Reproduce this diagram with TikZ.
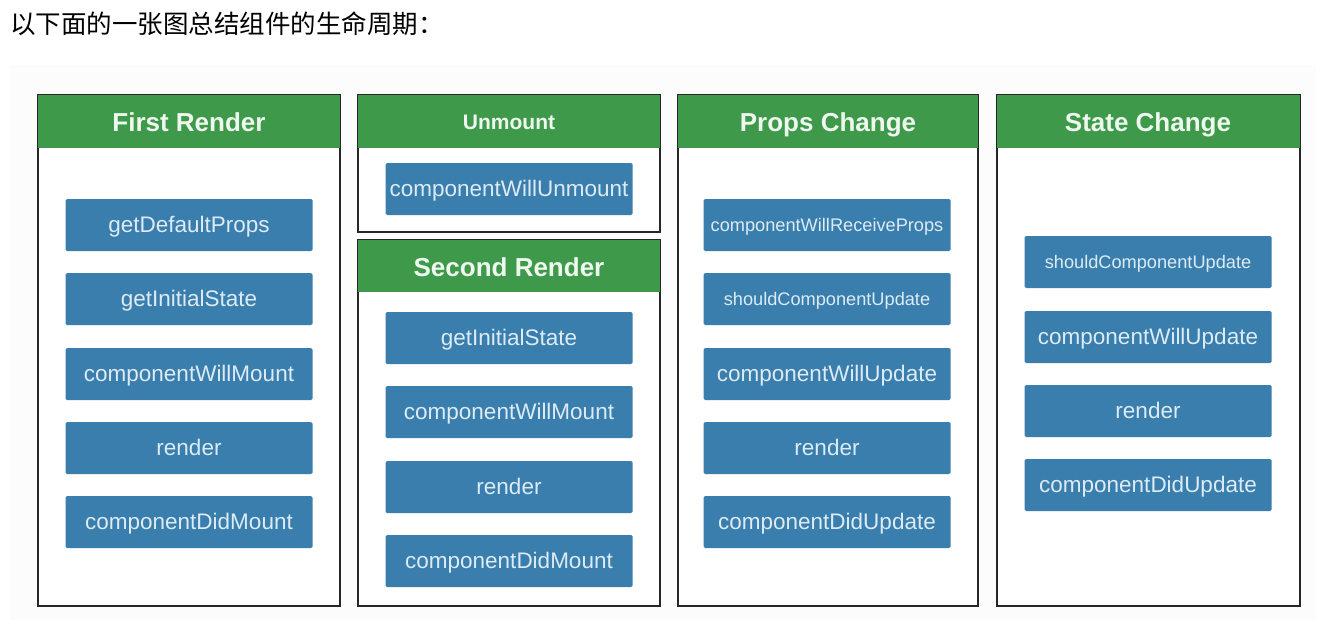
\documentclass[tikz,border=0pt]{standalone}
\usepackage{fontspec}
\setmainfont{Liberation Sans}
\newfontfamily\cjk{Noto Sans CJK SC}
\definecolor{hdrgreen}{HTML}{3E9A4A}
\definecolor{boxblue}{HTML}{3A7EAD}
\definecolor{boxtext}{HTML}{DCEBF5}
\definecolor{hdrtext}{HTML}{EEF8EE}
\definecolor{bgpanel}{HTML}{FCFCFC}
\begin{document}
\begin{tikzpicture}[x=1pt,y=-1pt,
  panel/.style={draw=black!85,line width=2pt,fill=white},
  header/.style={fill=hdrgreen,draw=none},
  hdrlabel/.style={text=hdrtext,inner sep=0pt,text height=18.6pt,text depth=0pt,font=\fontsize{26}{29}\selectfont\bfseries},
  smallhdr/.style={hdrlabel,text height=15pt,font=\fontsize{21}{24}\selectfont\bfseries},
  method/.style={fill=boxblue,draw=none,rounded corners=1.5pt,minimum width=247pt,minimum height=52pt,inner sep=0pt,text height=14.5pt,text depth=0pt,text=boxtext,font=\fontsize{22.5}{26}\selectfont},
  smethod/.style={method,text height=12.5pt,font=\fontsize{18.2}{21}\selectfont}
]
\useasboundingbox (0,0) rectangle (1324,624);
\fill[bgpanel] (10,65) rectangle (1316,620);
\node[anchor=west,inner sep=0pt,font=\cjk\fontsize{25.5}{29}\selectfont] (title) at (10,24) {以下面的一张图总结组件的生命周期：};

% First Render
\draw[panel] (38,95) rectangle (340,606);
\fill[header] (38,95) rectangle (340,148);
\node[hdrlabel] (h1) at (189,122) {First Render};
\node[method] (a1) at (189,225) {getDefaultProps};
\node[method] (a2) at (189,299) {getInitialState};
\node[method] (a3) at (189,374) {componentWillMount};
\node[method] (a4) at (189,448) {render};
\node[method] (a5) at (189,522) {componentDidMount};

% Unmount
\draw[panel] (358,95) rectangle (660,232);
\fill[header] (358,95) rectangle (660,148);
\node[smallhdr] (h2) at (509,122) {Unmount};
\node[method] (b1) at (509,189) {componentWillUnmount};

% Second Render
\draw[panel] (358,240) rectangle (660,606);
\fill[header] (358,240) rectangle (660,292);
\node[hdrlabel] (h3) at (509,267) {Second Render};
\node[method] (c1) at (509,338) {getInitialState};
\node[method] (c2) at (509,412) {componentWillMount};
\node[method] (c3) at (509,487) {render};
\node[method] (c4) at (509,561) {componentDidMount};

% Props Change
\draw[panel] (678,95) rectangle (978,606);
\fill[header] (678,95) rectangle (978,148);
\node[hdrlabel] (h4) at (828,122) {Props Change};
\node[smethod] (d1) at (827,225) {componentWillReceiveProps};
\node[smethod] (d2) at (827,299) {shouldComponentUpdate};
\node[method] (d3) at (827,374) {componentWillUpdate};
\node[method] (d4) at (827,448) {render};
\node[method] (d5) at (827,522) {componentDidUpdate};

% State Change
\draw[panel] (997,95) rectangle (1300,606);
\fill[header] (997,95) rectangle (1300,148);
\node[hdrlabel] (h5) at (1148,122) {State Change};
\node[smethod] (e1) at (1148,262) {shouldComponentUpdate};
\node[method] (e2) at (1148,337) {componentWillUpdate};
\node[method] (e3) at (1148,411) {render};
\node[method] (e4) at (1148,485) {componentDidUpdate};
\end{tikzpicture}
\end{document}
